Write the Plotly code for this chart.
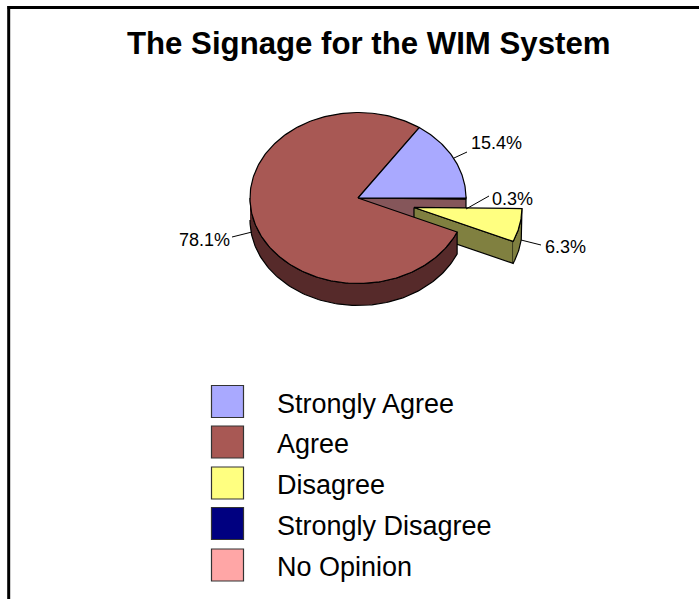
import numpy as np
import plotly.graph_objects as go

# ---- data ----
categories = ["Strongly Agree", "Agree", "Disagree", "Strongly Disagree", "No Opinion"]
percent = [15.4, 78.1, 6.3, 0.0, 0.3]
colors = ["#A9A9FF", "#A85854", "#FFFF80", "#000080", "#FFA6A6"]
side_colors = ["#55557F", "#562A2A", "#808040", "#000040", "#85565A"]
title = "The Signage for the WIM System"

# ---- layout constants ----
W, H = 699, 599
CX, CY, RX, RY, DEPTH_PX = 358.0, 198.0, 108.0, 85.5, 22.0
FONT = "Liberation Sans"
EXPLODE = 0.53
DEPTH = DEPTH_PX / RY
px = lambda x: (x - CX) / RX
py = lambda y: (CY - y) / RY


def arc(a0, a1, dx=0.0, dy=0.0, n=90):
    t = np.radians(np.linspace(a0, a1, n))
    return np.cos(t) + dx, np.sin(t) + dy


def poly(xs, ys, fill, lw=1.2):
    return go.Scatter(x=list(xs), y=list(ys), mode="lines", fill="toself", fillcolor=fill,
                      line=dict(color="#000000", width=lw), hoverinfo="skip", showlegend=False)


# angles, counter-clockwise from 3 o'clock, in chart order
spans = {}
a = 0.0
for name, v in zip(categories, percent):
    spans[name] = (a, a + v * 3.6)
    a += v * 3.6
a_blue = spans["Strongly Agree"]
a_agree = spans["Agree"]
a_dis = spans["Disagree"]
a_no = spans["No Opinion"]
mid = np.radians((a_dis[0] + a_dis[1]) / 2)
ex, ey = EXPLODE * np.cos(mid), EXPLODE * np.sin(mid)

traces = []

# inner wall revealed by the exploded slice
x0, y0 = np.cos(np.radians(a_no[0])), np.sin(np.radians(a_no[0]))
traces.append(poly([0, x0, x0, 0, 0], [0, y0, y0 - DEPTH, -DEPTH, 0], side_colors[4]))
# pink rim
xa, ya = arc(a_no[0], a_no[1], 0, 0, 8)
traces.append(poly([0, *xa, 0], [0, *ya, 0], colors[4]))

# exploded slice: cut face, rim, top
ax, ay = np.cos(np.radians(a_dis[0])) + ex, np.sin(np.radians(a_dis[0])) + ey
traces.append(poly([ex, ax, ax, ex, ex], [ey, ay, ay - DEPTH, ey - DEPTH, ey], side_colors[2]))
xa, ya = arc(a_dis[0], a_dis[1], ex, ey, 40)
traces.append(poly([*xa, *xa[::-1]], [*ya, *(ya[::-1] - DEPTH)], side_colors[2]))
traces.append(poly([ex, *xa, ex], [ey, *ya, ey], colors[2]))

# maroon side wall, then tops
xa, ya = arc(180, a_agree[1], 0, 0, 120)
traces.append(poly([*xa, *xa[::-1]], [*ya, *(ya[::-1] - DEPTH)], side_colors[1]))
xa, ya = arc(a_agree[0], a_agree[1], 0, 0, 240)
traces.append(poly([0, *xa, 0], [0, *ya, 0], colors[1]))
xa, ya = arc(a_blue[0], a_blue[1], 0, 0, 60)
traces.append(poly([0, *xa, 0], [0, *ya, 0], colors[0]))

# leader lines
leaders = [((454, 158), (467, 152)), ((466, 209), (489, 196)),
           ((521, 240), (541, 245)), ((252, 232), (232, 237))]
for (x1, y1), (x2, y2) in leaders:
    traces.append(go.Scatter(x=[px(x1), px(x2)], y=[py(y1), py(y2)], mode="lines",
                             line=dict(color="#000000", width=1), hoverinfo="skip", showlegend=False))

# legend swatches
leg_y = [401.5, 442, 483, 523.5, 565]
traces.append(go.Scatter(x=[px(227.5)] * 5, y=[py(v) for v in leg_y], mode="markers",
                         marker=dict(symbol="square", size=32, color=colors,
                                     line=dict(color="#333333", width=1.2)),
                         hoverinfo="skip", showlegend=False))

fig = go.Figure(traces)

ann = []
lab_pos = {"Strongly Agree": (469, 142.5, "left"), "Agree": (232, 239.5, "right"),
           "Disagree": (543, 246.5, "left"), "No Opinion": (490, 198.5, "left")}
for name, v in zip(categories, percent):
    if name in lab_pos:
        x, y, al = lab_pos[name]
        ann.append(dict(x=px(x), y=py(y), text=f"{v:.1f}%", showarrow=False, xanchor=al, yanchor="middle",
                        font=dict(family=FONT, size=18, color="#000000")))
for name, y in zip(categories, leg_y):
    ann.append(dict(x=px(275), y=py(y + 2), text=name, showarrow=False, xanchor="left", yanchor="middle",
                    font=dict(family=FONT, size=27, color="#000000")))
ann.append(dict(x=px(368.5), y=py(43.5), text=title, showarrow=False, xanchor="center", yanchor="middle",
                font=dict(family=FONT, size=31.2, color="#000000", weight="bold")))

fig.update_layout(
    width=W, height=H, margin=dict(l=0, r=0, t=0, b=0), showlegend=False,
    paper_bgcolor="#FFFFFF", plot_bgcolor="#FFFFFF", annotations=ann,
    xaxis=dict(range=[px(0), px(W)], visible=False, fixedrange=True),
    yaxis=dict(range=[py(H), py(0)], visible=False, fixedrange=True),
    shapes=[
        dict(type="line", xref="paper", yref="paper", x0=7.5 / W, x1=1, y0=1 - 7.5 / H, y1=1 - 7.5 / H,
             line=dict(color="#000000", width=3)),
        dict(type="line", xref="paper", yref="paper", x0=8.7 / W, x1=8.7 / W, y0=0, y1=1 - 6 / H,
             line=dict(color="#000000", width=3)),
    ],
)
fig.write_html("out.html", config=dict(displayModeBar=False),
               post_script="document.body.style.margin='0';document.body.style.overflow='hidden';")
